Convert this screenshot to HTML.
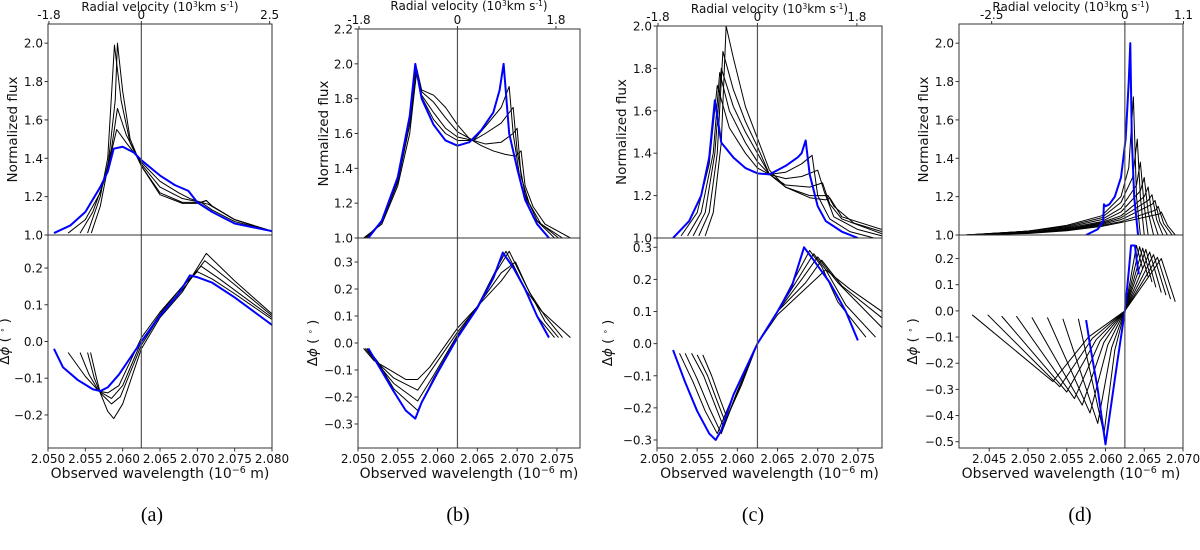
<!DOCTYPE html>
<html><head><meta charset="utf-8"><style>
body{margin:0;background:#fff;}
svg{display:block;font-family:"DejaVu Sans","Liberation Sans",sans-serif;}
</style></head><body>
<svg id="fig" width="1200" height="550" viewBox="0 0 1200 550" xmlns="http://www.w3.org/2000/svg"></svg>
<script>
// ---------- data (wavelength in 1e-6 m, value) ----------
const aFluxBlue=[[2.0508,1.01],[2.053,1.05],[2.055,1.12],[2.057,1.25],[2.058,1.33],[2.0588,1.45],[2.060,1.46],[2.0615,1.43],[2.0625,1.39],[2.065,1.31],[2.067,1.26],[2.0688,1.23],[2.070,1.17],[2.072,1.12],[2.075,1.06],[2.080,1.02]];
const aFluxBlack=[
[[2.0527,1.01],[2.055,1.08],[2.057,1.22],[2.058,1.35],[2.0592,1.55],[2.0605,1.48],[2.0625,1.38],[2.065,1.28],[2.0675,1.22],[2.069,1.19],[2.0705,1.17],[2.072,1.13],[2.075,1.07],[2.080,1.02]],
[[2.0543,1.01],[2.056,1.12],[2.0575,1.28],[2.0585,1.45],[2.0593,1.66],[2.0605,1.52],[2.0625,1.37],[2.065,1.25],[2.068,1.19],[2.0705,1.17],[2.0715,1.16],[2.075,1.08],[2.080,1.02]],
[[2.0553,1.01],[2.057,1.2],[2.058,1.4],[2.0589,1.99],[2.0598,1.7],[2.061,1.48],[2.0625,1.36],[2.065,1.22],[2.068,1.17],[2.0705,1.17],[2.0712,1.18],[2.072,1.15],[2.075,1.08],[2.080,1.02]],
[[2.0558,1.01],[2.057,1.15],[2.058,1.35],[2.059,1.7],[2.0593,2.0],[2.060,1.75],[2.061,1.5],[2.0625,1.36],[2.065,1.21],[2.068,1.165],[2.070,1.165],[2.0712,1.18],[2.072,1.15],[2.075,1.08],[2.080,1.02]]];
const aPhaseBlue=[[2.0508,-0.02],[2.052,-0.07],[2.054,-0.105],[2.056,-0.13],[2.057,-0.135],[2.058,-0.125],[2.0595,-0.09],[2.0625,0.0],[2.065,0.07],[2.0675,0.13],[2.069,0.18],[2.070,0.175],[2.072,0.16],[2.075,0.12],[2.080,0.045]];
const aPhaseBlack=[
[[2.0527,-0.03],[2.055,-0.095],[2.0568,-0.135],[2.058,-0.14],[2.0595,-0.12],[2.0625,0.01],[2.065,0.08],[2.068,0.15],[2.070,0.19],[2.072,0.17],[2.075,0.13],[2.080,0.06]],
[[2.0543,-0.03],[2.0555,-0.09],[2.0568,-0.135],[2.0585,-0.155],[2.060,-0.12],[2.0625,0.0],[2.065,0.075],[2.068,0.15],[2.0705,0.205],[2.073,0.17],[2.080,0.065]],
[[2.0553,-0.03],[2.0562,-0.1],[2.057,-0.14],[2.0585,-0.17],[2.0597,-0.15],[2.0625,-0.01],[2.065,0.07],[2.068,0.14],[2.071,0.22],[2.075,0.155],[2.080,0.07]],
[[2.0557,-0.03],[2.0565,-0.1],[2.057,-0.14],[2.058,-0.19],[2.0588,-0.21],[2.060,-0.17],[2.0625,-0.02],[2.065,0.065],[2.068,0.135],[2.0712,0.24],[2.075,0.165],[2.080,0.075]]];

const bFluxBlue=[[2.0513,1.0],[2.053,1.1],[2.055,1.35],[2.0565,1.7],[2.0572,2.0],[2.058,1.8],[2.0595,1.65],[2.061,1.56],[2.0625,1.53],[2.064,1.55],[2.0655,1.62],[2.067,1.72],[2.0678,1.85],[2.0683,2.0],[2.069,1.6],[2.070,1.4],[2.071,1.22],[2.0725,1.08],[2.074,1.0]];
const bFluxBlack=[
[[2.0507,1.0],[2.053,1.08],[2.055,1.3],[2.0565,1.6],[2.0574,1.97],[2.058,1.85],[2.0595,1.82],[2.061,1.75],[2.0625,1.65],[2.064,1.57],[2.0655,1.53],[2.067,1.5],[2.0685,1.48],[2.0698,1.47],[2.0705,1.5],[2.071,1.3],[2.072,1.18],[2.0735,1.08],[2.0767,1.0]],
[[2.0509,1.0],[2.053,1.09],[2.055,1.32],[2.0565,1.65],[2.0574,1.96],[2.058,1.84],[2.0595,1.78],[2.061,1.69],[2.0625,1.61],[2.0645,1.56],[2.066,1.54],[2.068,1.55],[2.0695,1.6],[2.0700,1.63],[2.0705,1.35],[2.0715,1.2],[2.073,1.08],[2.0757,1.0]],
[[2.0511,1.0],[2.053,1.1],[2.055,1.33],[2.0565,1.68],[2.0573,1.98],[2.058,1.82],[2.0595,1.72],[2.061,1.63],[2.0625,1.58],[2.0645,1.56],[2.066,1.6],[2.068,1.66],[2.0695,1.75],[2.070,1.5],[2.071,1.25],[2.0725,1.1],[2.0752,1.0]],
[[2.0512,1.0],[2.053,1.1],[2.055,1.34],[2.0565,1.69],[2.0573,1.98],[2.058,1.81],[2.0595,1.68],[2.061,1.6],[2.0625,1.56],[2.0645,1.56],[2.066,1.64],[2.068,1.75],[2.069,1.87],[2.0695,1.6],[2.0705,1.3],[2.072,1.12],[2.0747,1.0]]];
const bPhaseBlue=[[2.0513,-0.02],[2.0525,-0.08],[2.0545,-0.18],[2.056,-0.25],[2.0572,-0.28],[2.058,-0.22],[2.060,-0.11],[2.0625,0.02],[2.065,0.13],[2.067,0.24],[2.0682,0.335],[2.0695,0.28],[2.071,0.2],[2.0725,0.1],[2.074,0.02]];
const bPhaseBlack=[
[[2.0507,-0.02],[2.052,-0.065],[2.054,-0.1],[2.056,-0.135],[2.0575,-0.135],[2.059,-0.09],[2.0625,0.055],[2.065,0.135],[2.068,0.23],[2.0695,0.29],[2.071,0.2],[2.073,0.12],[2.0767,0.02]],
[[2.0509,-0.02],[2.052,-0.06],[2.0545,-0.13],[2.0575,-0.175],[2.059,-0.11],[2.0625,0.04],[2.065,0.135],[2.068,0.26],[2.0698,0.3],[2.0715,0.19],[2.0735,0.1],[2.0757,0.02]],
[[2.0511,-0.02],[2.052,-0.06],[2.0545,-0.15],[2.0575,-0.215],[2.0595,-0.12],[2.0625,0.03],[2.065,0.135],[2.0675,0.27],[2.069,0.34],[2.071,0.22],[2.0735,0.08],[2.0752,0.02]],
[[2.0512,-0.02],[2.0525,-0.07],[2.0545,-0.17],[2.0575,-0.25],[2.0595,-0.13],[2.0625,0.025],[2.065,0.135],[2.0675,0.28],[2.0686,0.34],[2.070,0.26],[2.0725,0.1],[2.0747,0.02]]];

const cFluxBlue=[[2.052,1.0],[2.054,1.08],[2.0555,1.2],[2.0565,1.38],[2.0572,1.65],[2.058,1.45],[2.0595,1.38],[2.061,1.33],[2.0625,1.305],[2.064,1.3],[2.066,1.34],[2.0675,1.38],[2.068,1.4],[2.0685,1.46],[2.069,1.3],[2.070,1.15],[2.071,1.08],[2.073,1.03],[2.075,1.0]];
const cFluxBlack=[
[[2.053,1.01],[2.055,1.12],[2.0565,1.35],[2.0575,1.72],[2.059,1.52],[2.061,1.4],[2.0625,1.33],[2.064,1.3],[2.066,1.31],[2.068,1.35],[2.0693,1.39],[2.070,1.2],[2.0715,1.09],[2.074,1.03],[2.077,1.0]],
[[2.0538,1.01],[2.0555,1.12],[2.057,1.4],[2.0578,1.78],[2.059,1.6],[2.061,1.45],[2.0625,1.36],[2.064,1.3],[2.066,1.28],[2.068,1.29],[2.07,1.32],[2.0708,1.22],[2.072,1.1],[2.075,1.04],[2.078,1.01]],
[[2.0545,1.01],[2.056,1.12],[2.0572,1.4],[2.058,1.8],[2.0595,1.62],[2.061,1.5],[2.0625,1.4],[2.064,1.3],[2.066,1.25],[2.069,1.24],[2.0706,1.26],[2.0715,1.16],[2.073,1.09],[2.078,1.02]],
[[2.0552,1.01],[2.0565,1.12],[2.0575,1.4],[2.0582,1.88],[2.0595,1.7],[2.061,1.55],[2.0625,1.43],[2.064,1.3],[2.066,1.24],[2.069,1.2],[2.0713,1.2],[2.072,1.15],[2.0745,1.07],[2.078,1.03]],
[[2.056,1.01],[2.057,1.12],[2.058,1.45],[2.0586,2.0],[2.0595,1.85],[2.061,1.62],[2.0625,1.47],[2.064,1.32],[2.066,1.24],[2.069,1.19],[2.071,1.18],[2.0715,1.19],[2.073,1.1],[2.078,1.04]]];
const cPhaseBlue=[[2.052,-0.02],[2.0535,-0.12],[2.055,-0.21],[2.0565,-0.28],[2.0573,-0.3],[2.058,-0.27],[2.0595,-0.16],[2.0625,0.0],[2.065,0.1],[2.0668,0.18],[2.0683,0.3],[2.0695,0.26],[2.0715,0.19],[2.0735,0.1],[2.075,0.01]];
const cPhaseBlack=[
[[2.0528,-0.03],[2.0545,-0.12],[2.056,-0.21],[2.0575,-0.28],[2.0595,-0.16],[2.0625,0.0],[2.065,0.1],[2.0675,0.22],[2.069,0.29],[2.0705,0.24],[2.0725,0.13],[2.076,0.02]],
[[2.0535,-0.03],[2.055,-0.11],[2.0565,-0.2],[2.058,-0.28],[2.0598,-0.16],[2.0625,0.0],[2.065,0.1],[2.068,0.22],[2.0695,0.28],[2.071,0.23],[2.0735,0.12],[2.0772,0.02]],
[[2.0543,-0.03],[2.0558,-0.1],[2.0572,-0.19],[2.0583,-0.26],[2.060,-0.15],[2.0625,0.0],[2.065,0.1],[2.068,0.2],[2.07,0.27],[2.0725,0.19],[2.078,0.05]],
[[2.055,-0.035],[2.0563,-0.1],[2.0575,-0.18],[2.0585,-0.245],[2.0602,-0.14],[2.0625,0.0],[2.065,0.1],[2.0685,0.19],[2.0705,0.26],[2.073,0.18],[2.078,0.08]],
[[2.0557,-0.035],[2.0568,-0.1],[2.0578,-0.17],[2.0587,-0.23],[2.0605,-0.13],[2.0625,0.0],[2.065,0.09],[2.068,0.16],[2.071,0.23],[2.074,0.17],[2.078,0.1]]];

const dFluxBlue=[[2.0575,1.0],[2.059,1.03],[2.0597,1.07],[2.0598,1.16],[2.060,1.15],[2.0605,1.16],[2.0612,1.2],[2.062,1.3],[2.0626,1.5],[2.063,1.8],[2.0632,2.0],[2.0634,1.5],[2.0637,1.2],[2.0642,1.0]];
const dFluxBlack=[
[[2.042,1.0],[2.05,1.02],[2.055,1.05],[2.0595,1.1],[2.062,1.2],[2.063,1.35],[2.0636,1.72],[2.064,1.2],[2.0645,1.0]],
[[2.042,1.0],[2.05,1.02],[2.055,1.045],[2.0595,1.09],[2.062,1.17],[2.0635,1.3],[2.0641,1.5],[2.0645,1.2],[2.065,1.0]],
[[2.042,1.0],[2.05,1.02],[2.055,1.04],[2.0595,1.08],[2.062,1.14],[2.064,1.26],[2.0645,1.38],[2.065,1.15],[2.0655,1.0]],
[[2.042,1.0],[2.05,1.015],[2.055,1.035],[2.0595,1.07],[2.062,1.12],[2.0645,1.23],[2.065,1.3],[2.0655,1.12],[2.0662,1.0]],
[[2.042,1.0],[2.05,1.015],[2.055,1.03],[2.0595,1.065],[2.062,1.1],[2.065,1.2],[2.0655,1.25],[2.066,1.1],[2.0668,1.0]],
[[2.042,1.0],[2.05,1.012],[2.055,1.03],[2.0595,1.06],[2.062,1.09],[2.0655,1.18],[2.066,1.21],[2.0666,1.08],[2.0674,1.0]],
[[2.042,1.0],[2.05,1.01],[2.055,1.028],[2.0595,1.055],[2.062,1.08],[2.066,1.16],[2.0664,1.18],[2.067,1.07],[2.068,1.0]],
[[2.042,1.0],[2.05,1.01],[2.055,1.025],[2.0595,1.05],[2.062,1.07],[2.0665,1.13],[2.0668,1.15],[2.0675,1.06],[2.0686,1.0]],
[[2.042,1.0],[2.05,1.008],[2.055,1.022],[2.0595,1.045],[2.062,1.065],[2.067,1.11],[2.0672,1.12],[2.068,1.05],[2.069,1.0]]];
const dPhaseBlue=[[2.0575,-0.035],[2.058,-0.13],[2.059,-0.3],[2.060,-0.51],[2.0615,-0.2],[2.0625,0.0],[2.063,0.15],[2.0633,0.25],[2.0638,0.25],[2.064,0.2],[2.0643,0.14]];
const dPhaseBlack=[
[[2.0428,-0.015],[2.0532,-0.27],[2.0578,-0.1],[2.0625,0.0],[2.0640,0.25],[2.0648,0.16]],
[[2.0448,-0.015],[2.0541,-0.29],[2.0583,-0.105],[2.0625,0.0],[2.0644,0.245],[2.0655,0.13]],
[[2.0466,-0.02],[2.0550,-0.31],[2.0588,-0.11],[2.0625,0.0],[2.0648,0.24],[2.066,0.11]],
[[2.0485,-0.02],[2.0560,-0.335],[2.0593,-0.115],[2.0625,0.0],[2.0652,0.235],[2.0665,0.09]],
[[2.0505,-0.025],[2.0570,-0.36],[2.0598,-0.12],[2.0625,0.0],[2.0657,0.225],[2.0672,0.07]],
[[2.0525,-0.025],[2.0580,-0.39],[2.0603,-0.13],[2.0625,0.0],[2.0662,0.215],[2.0678,0.06]],
[[2.0545,-0.03],[2.0590,-0.43],[2.0608,-0.14],[2.0625,0.0],[2.0667,0.205],[2.0684,0.045]],
[[2.0565,-0.03],[2.0598,-0.47],[2.0612,-0.15],[2.0625,0.0],[2.0672,0.2],[2.069,0.035]]];

const aXTicks=[2.050,2.055,2.060,2.065,2.070,2.075,2.080];
const bXTicks=[2.050,2.055,2.060,2.065,2.070,2.075];
const cXTicks=[2.050,2.055,2.060,2.065,2.070,2.075];
const dXTicks=[2.045,2.050,2.055,2.060,2.065,2.070];
const aFluxTicks=[1.0,1.2,1.4,1.6,1.8,2.0];
const bFluxTicks=[1.0,1.2,1.4,1.6,1.8,2.0,2.2];
const cFluxTicks=[1.0,1.2,1.4,1.6,1.8,2.0];
const dFluxTicks=[1.0,1.2,1.4,1.6,1.8,2.0];
const aPhaseTicks=[-0.2,-0.1,0.0,0.1,0.2];
const bPhaseTicks=[-0.3,-0.2,-0.1,0.0,0.1,0.2,0.3];
const cPhaseTicks=[-0.3,-0.2,-0.1,0.0,0.1,0.2,0.3];
const dPhaseTicks=[-0.5,-0.4,-0.3,-0.2,-0.1,0.0,0.1,0.2];
const aVelTicks=[-1.8,0,2.5];
const bVelTicks=[-1.8,0,1.8];
const cVelTicks=[-1.8,0,1.8];
const dVelTicks=[-2.5,0,1.1];
const panelLetters=["(a)","(b)","(c)","(d)"];

const LAMBDA0=2.0625, C=3e5;
const NS="http://www.w3.org/2000/svg";
const svg=document.getElementById('fig');
function mk(tag,attrs,parent,text){const e=document.createElementNS(NS,tag);for(const k in attrs)e.setAttribute(k,attrs[k]);if(text!==undefined)e.textContent=text;(parent||svg).appendChild(e);return e;}
function fmt(v,d){return (v<0?"\u2212":"")+Math.abs(v).toFixed(d);}

const panels=[
{id:'a',x0:48,x1:272,xmin:2.050,xmax:2.080,tT:24,mid:235,bot:448,fr:[1.0,2.1],pr:[-0.29,0.29],xt:aXTicks,ft:aFluxTicks,pt:aPhaseTicks,vt:aVelTicks,fb:aFluxBlue,fk:aFluxBlack,pb:aPhaseBlue,pk:aPhaseBlack,yl:12,pl:3,lx:152},
{id:'b',x0:358,x1:580,xmin:2.050,xmax:2.0779,tT:29,mid:238,bot:448,fr:[1.0,2.2],pr:[-0.389,0.389],xt:bXTicks,ft:bFluxTicks,pt:bPhaseTicks,vt:bVelTicks,fb:bFluxBlue,fk:bFluxBlack,pb:bPhaseBlue,pk:bPhaseBlack,yl:323,pl:311,lx:458},
{id:'c',x0:657,x1:882,xmin:2.050,xmax:2.078,tT:26,mid:238,bot:448,fr:[1.0,2.0],pr:[-0.325,0.329],xt:cXTicks,ft:cFluxTicks,pt:cPhaseTicks,vt:cVelTicks,fb:cFluxBlue,fk:cFluxBlack,pb:cPhaseBlue,pk:cPhaseBlack,yl:621,pl:606,lx:753},
{id:'d',x0:959,x1:1183,xmin:2.0411,xmax:2.070,tT:24,mid:235,bot:448,fr:[1.0,2.1],pr:[-0.524,0.29],xt:dXTicks,ft:dFluxTicks,pt:dPhaseTicks,vt:dVelTicks,fb:dFluxBlue,fk:dFluxBlack,pb:dPhaseBlue,pk:dPhaseBlack,yl:923,pl:911,lx:1080}];

panels.forEach((p,pi)=>{
  const g=mk('g',{});
  
  
  const X=v=>p.x0+(v-p.xmin)/(p.xmax-p.xmin)*(p.x1-p.x0);
  const YF=v=>p.mid-(v-p.fr[0])/(p.fr[1]-p.fr[0])*(p.mid-p.tT);
  const YP=v=>p.bot-(v-p.pr[0])/(p.pr[1]-p.pr[0])*(p.bot-p.mid);
  const clipId='clip'+p.id;
  const defs=mk('defs',{},g);
  const cpT=mk('clipPath',{id:clipId+'t'},defs);mk('rect',{x:p.x0,y:p.tT,width:p.x1-p.x0,height:p.mid-p.tT},cpT);
  const cpB=mk('clipPath',{id:clipId+'b'},defs);mk('rect',{x:p.x0,y:p.mid,width:p.x1-p.x0,height:p.bot-p.mid},cpB);
  function line(pts,Y,color,w,clip,name){
    const d=pts.map((q,i)=>(i?'L':'M')+X(q[0]).toFixed(2)+' '+Y(q[1]).toFixed(2)).join(' ');
    const e=mk('path',{d:d,fill:'none',stroke:color,'stroke-width':w,'stroke-linejoin':'round','clip-path':'url(#'+clip+')'},g);
    
    
  }
  p.fk.forEach((s,i)=>line(s,YF,'#000',1,clipId+'t','flux-model-'+(i+1)));
  line(p.fb,YF,'#0000ff',2,clipId+'t','flux-blue-model');
  p.pk.forEach((s,i)=>line(s,YP,'#000',1,clipId+'b','phase-model-'+(i+1)));
  line(p.pb,YP,'#0000ff',2,clipId+'b','phase-blue-model');
  const zl=mk('line',{x1:X(LAMBDA0),x2:X(LAMBDA0),y1:p.tT,y2:p.bot,stroke:'#555','stroke-width':1.2},g);
  
  
  const f1=mk('rect',{x:p.x0,y:p.tT,width:p.x1-p.x0,height:p.mid-p.tT,fill:'none',stroke:'#333','stroke-width':1},g);
  
  
  const f2=mk('rect',{x:p.x0,y:p.mid,width:p.x1-p.x0,height:p.bot-p.mid,fill:'none',stroke:'#333','stroke-width':1},g);
  
  
  p.xt.forEach(v=>{
    const x=X(v);
    mk('line',{x1:x,x2:x,y1:p.bot,y2:p.bot+3.5,stroke:'#333'},g);
    const t=mk('text',{x:x,y:p.bot+15,'text-anchor':'middle','font-size':12,fill:'#111'},g,v.toFixed(3));
    
    
  });
  const xt=mk('text',{x:(p.x0+p.x1)/2,y:p.bot+30,'text-anchor':'middle','font-size':14,fill:'#111'},g);
  
  
  xt.innerHTML='Observed wavelength (10<tspan dy="-5" font-size="9.5">\u22126</tspan><tspan dy="5"> m)</tspan>';
  p.vt.forEach(v=>{
    const x=X(LAMBDA0*(1+v*1000/C));
    mk('line',{x1:x,x2:x,y1:p.tT,y2:p.tT-3,stroke:'#333'},g);
    const t=mk('text',{x:x,y:p.tT-5,'text-anchor':'middle','font-size':12,fill:'#111'},g,v===0?'0':(v<0?'-':'')+Math.abs(v).toFixed(1));
    
    
  });
  const vt=mk('text',{x:(p.x0+p.x1)/2,y:p.tT-(p.tT>26?19:13),'text-anchor':'middle','font-size':12,fill:'#111'},g);
  
  
  vt.innerHTML='Radial velocity (10<tspan dy="-4" font-size="7.5">3</tspan><tspan dy="4">km s</tspan><tspan dy="-4" font-size="7.5">-1</tspan><tspan dy="4">)</tspan>';
  p.ft.forEach(v=>{
    const y=YF(v);
    mk('line',{x1:p.x0-3.5,x2:p.x0,y1:y,y2:y,stroke:'#333'},g);
    const t=mk('text',{x:p.x0-5,y:y+4.5,'text-anchor':'end','font-size':12,fill:'#111'},g,v.toFixed(1));
    
    
  });
  p.pt.forEach(v=>{
    const y=YP(v);
    mk('line',{x1:p.x0-3.5,x2:p.x0,y1:y,y2:y,stroke:'#333'},g);
    const t=mk('text',{x:p.x0-5,y:y+4.5,'text-anchor':'end','font-size':12,fill:'#111'},g,fmt(v,1));
    
    
  });
  const yf=mk('text',{x:0,y:0,'text-anchor':'middle','font-size':13.5,fill:'#111',transform:'translate('+(p.yl+5)+','+((p.tT+p.mid)/2)+') rotate(-90)'},g,'Normalized flux');
  
  
  const yp=mk('text',{x:0,y:0,'text-anchor':'middle','font-size':13.5,fill:'#111',transform:'translate('+(p.pl+6)+','+((p.mid+p.bot)/2)+') rotate(-90)'},g);
  
  
  yp.innerHTML='\u0394<tspan font-style="italic">\u03d5</tspan> ( <tspan dy="-4" font-size="8">\u2218</tspan><tspan dy="4"> )</tspan>';
  const lt=mk('text',{x:p.lx,y:521,'text-anchor':'middle','font-size':20,fill:'#000','font-family':'"Liberation Serif",serif'},g,panelLetters[pi]);
  
  
});
</script>
</body></html>
